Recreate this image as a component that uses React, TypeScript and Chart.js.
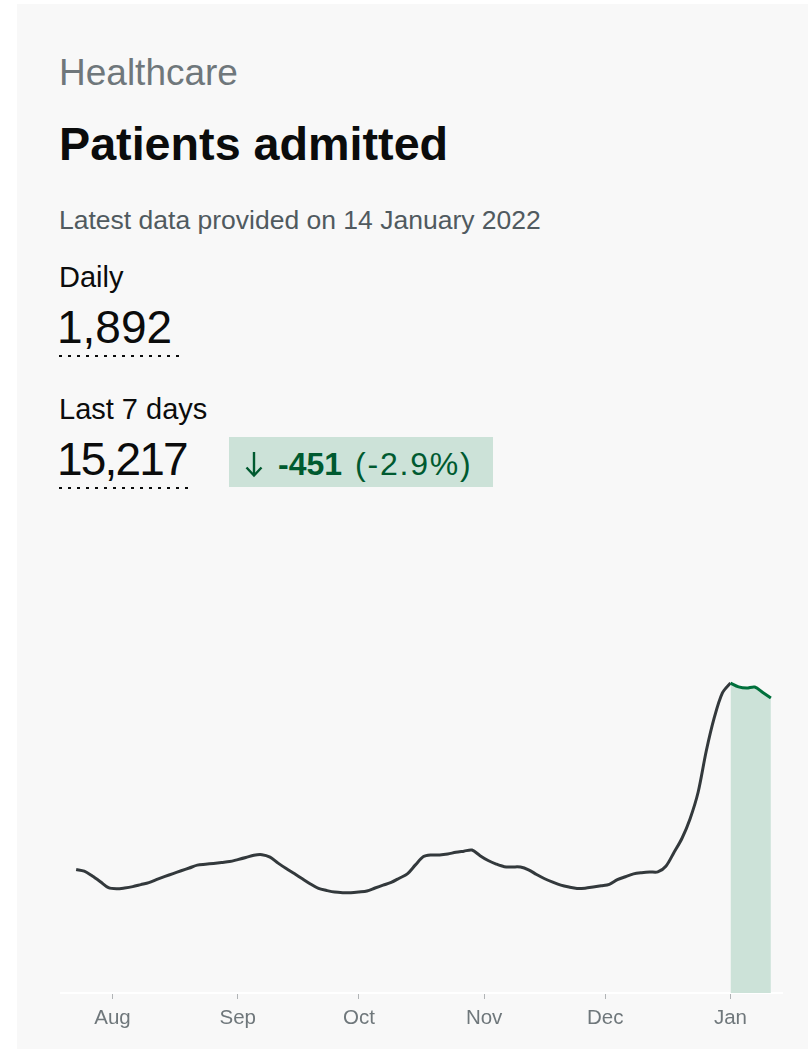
import React, { useEffect, useRef } from "react";
import { Chart, registerables } from "chart.js";

Chart.register(...registerables);

// Day offsets are counted from 1 August 2021 (day 0).
const firstDay = -9; // 23 July 2021
const stepDays = 2;
const highlightFromDay = 153; // 1 January 2022

// Patients admitted (7-day average), every 2 days from 23 Jul 2021 to 11 Jan 2022
const admissions = [
  908, 896, 860, 818, 774, 766, 772, 782, 797, 812,
  835, 857, 878, 899, 919, 940, 947, 953, 960, 967,
  981, 996, 1013, 1017, 999, 955, 915, 878, 840, 802,
  769, 754, 742, 738, 738, 743, 750, 772, 793, 813,
  844, 876, 942, 1003, 1015, 1015, 1022, 1035, 1043, 1051,
  1010, 974, 948, 929, 927, 926, 906, 871, 840, 815,
  793, 779, 769, 771, 779, 788, 799, 833, 855, 876,
  885, 890, 890, 932, 1033, 1138, 1282, 1478, 1779, 2026,
  2206, 2279, 2251, 2242, 2250, 2210, 2169,
];

const monthTickDays = [0, 31, 61, 92, 122, 153];
const monthTickLabels = ["Aug", "Sep", "Oct", "Nov", "Dec", "Jan"];

const FONT = "'Liberation Sans', Arial, Helvetica, sans-serif";

function ChartCanvas() {
  const ref = useRef<HTMLCanvasElement | null>(null);
  useEffect(() => {
    if (!ref.current) return;
    const pts = admissions.map((v, i) => ({ x: firstDay + i * stepDays, y: v }));
    const dark = pts.filter((p) => p.x <= highlightFromDay);
    const green = pts.filter((p) => p.x >= highlightFromDay);
    const chart = new Chart(ref.current, {
      type: "line",
      data: {
        datasets: [
          {
            data: green,
            borderColor: "#00703c",
            backgroundColor: "#cce2d8",
            fill: "origin",
            borderWidth: 3,
            pointRadius: 0,
            tension: 0.3,
          },
          {
            data: dark,
            borderColor: "#33393c",
            borderWidth: 3,
            pointRadius: 0,
            tension: 0.3,
            fill: false,
          },
        ],
      },
      options: {
        animation: false,
        responsive: false,
        maintainAspectRatio: false,
        devicePixelRatio: 1,
        layout: { padding: 0 },
        plugins: { legend: { display: false }, tooltip: { enabled: false } },
        scales: {
          x: {
            type: "linear",
            min: -13,
            max: 166,
            afterBuildTicks: (s: any) => {
              s.ticks = monthTickDays.map((v) => ({ value: v }));
            },
            afterFit: (s: any) => {
              s.height = 56;
            },
            ticks: {
              callback: (_v: any, i: number) => monthTickLabels[i],
              color: "#6f777b",
              font: { family: FONT, size: 20.5 },
              padding: 7,
              maxRotation: 0,
              autoSkip: false,
            },
            grid: {
              display: true,
              drawOnChartArea: false,
              drawTicks: true,
              tickLength: 6,
              color: "#b1b4b6",
            },
            border: { display: true, color: "#ffffff", width: 2 },
          },
          y: { display: false, min: 0, max: 3000 },
        },
      },
    });
    return () => chart.destroy();
  }, []);
  return (
    <canvas
      ref={ref}
      width={723}
      height={464}
      style={{ position: "absolute", left: 60, top: 585, width: 723, height: 464 }}
    />
  );
}

const txt = (left: number, top: number, size: number, extra: React.CSSProperties = {}): React.CSSProperties => ({
  position: "absolute",
  left,
  top,
  fontSize: size,
  lineHeight: 1,
  fontFamily: FONT,
  whiteSpace: "nowrap",
  margin: 0,
  color: "#0b0c0c",
  ...extra,
});

const dots = (left: number, top: number, width: number): React.CSSProperties => ({
  position: "absolute",
  left,
  top,
  width,
  height: 2,
  backgroundImage: "linear-gradient(to right, #0b0c0c 0px, #0b0c0c 3px, transparent 3px, transparent 9px)",
  backgroundSize: "9px 2px",
  backgroundRepeat: "repeat-x",
});

export default function App() {
  return (
    <div style={{ position: "absolute", left: 0, top: 0, width: 808, height: 1049, overflow: "hidden", background: "#ffffff" }}>
      <div style={{ position: "absolute", left: 17, top: 4, width: 820, height: 1060, background: "#f8f8f8" }} />
      <div style={txt(59, 54, 37, { color: "#6f777b" })}>Healthcare</div>
      <div style={txt(59, 121, 46.7, { fontWeight: 700 })}>Patients admitted</div>
      <div style={txt(59, 206.5, 26.5, { color: "#505a5f" })}>Latest data provided on 14 January 2022</div>
      <div style={txt(59, 262.5, 29)}>Daily</div>
      <div style={txt(57, 304, 46)}>1,892</div>
      <div style={dots(59, 355, 120)} />
      <div style={txt(59, 394.5, 29)}>Last 7 days</div>
      <div style={txt(57, 436, 46, { letterSpacing: -1.8 })}>15,217</div>
      <div style={dots(59, 487, 132)} />
      <div style={{ position: "absolute", left: 229, top: 437, width: 264, height: 50, background: "#cce2d8" }} />
      <svg style={{ position: "absolute", left: 245, top: 452 }} width={18} height={26} viewBox="0 0 18 26">
        <line x1={9} y1={0} x2={9} y2={23} stroke="#005a30" strokeWidth={2.4} />
        <polyline points="1.5,15.5 9,23.5 16.5,15.5" fill="none" stroke="#005a30" strokeWidth={2.4} />
      </svg>
      <div style={txt(278, 448, 32, { fontWeight: 700, color: "#005a30" })}>-451</div>
      <div style={txt(355, 448, 32, { color: "#005a30", letterSpacing: 1.8 })}>(-2.9%)</div>
      <ChartCanvas />
    </div>
  );
}
